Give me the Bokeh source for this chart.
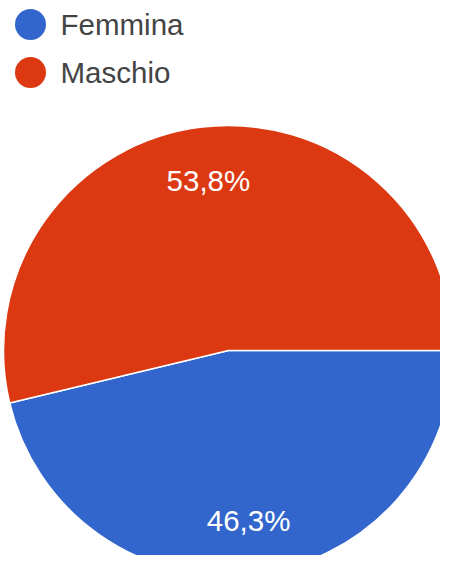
import math
from bokeh.plotting import figure
from bokeh.models import Range1d, ColumnDataSource
from bokeh.core.properties import value
from bokeh.embed import file_html
from bokeh.resources import INLINE

# Data
categories = ["Femmina", "Maschio"]
percentages = [46.3, 53.8]
colors = ["#3366CC", "#DC3912"]

W, H = 440, 555
p = figure(width=W, height=H, x_range=Range1d(0, W), y_range=Range1d(0, H),
           output_backend="svg", toolbar_location=None, min_border=0,
           x_axis_type=None, y_axis_type=None)
p.outline_line_color = None
p.grid.visible = False

# Pie geometry (pixel-like data units, y up)
cx, cy, R = 228, H - 350, 225
total = sum(percentages)
f_fem = percentages[0] / total
starts = [-2 * math.pi * f_fem, 0.0]
ends = [0.0, 2 * math.pi * (1 - f_fem)]

src = ColumnDataSource(dict(cat=categories, start=starts, end=ends, color=colors))
p.wedge(x=cx, y=cy, radius=R, start_angle="start", end_angle="end",
        fill_color="color", line_color="white", line_width=1.5, source=src)

# Slice labels
lx, ly, lt = [], [], []
for s, e, v in zip(starts, ends, percentages):
    mid = (s + e) / 2
    lx.append(cx + 0.76 * R * math.cos(mid))
    ly.append(cy + 0.76 * R * math.sin(mid))
    lt.append(f"{v:.1f}".replace(".", ",") + "%")
p.text(x=lx, y=ly, text=lt, text_color="white", text_align="center",
       text_baseline="middle", text_font=value("Liberation Sans"),
       text_font_size="29.5px")

# Legend (manual)
leg_y = [H - 24 - 48 * i for i in range(len(categories))]
p.scatter(x=[30] * len(categories), y=leg_y, size=31, marker="circle",
          fill_color=colors, line_color=None)
p.text(x=[60] * len(categories), y=leg_y, text=categories, text_color="#444444",
       text_baseline="middle", text_align="left",
       text_font=value("Liberation Sans"), text_font_size="29.5px")

open("out.html", "w").write(file_html(p, INLINE))
